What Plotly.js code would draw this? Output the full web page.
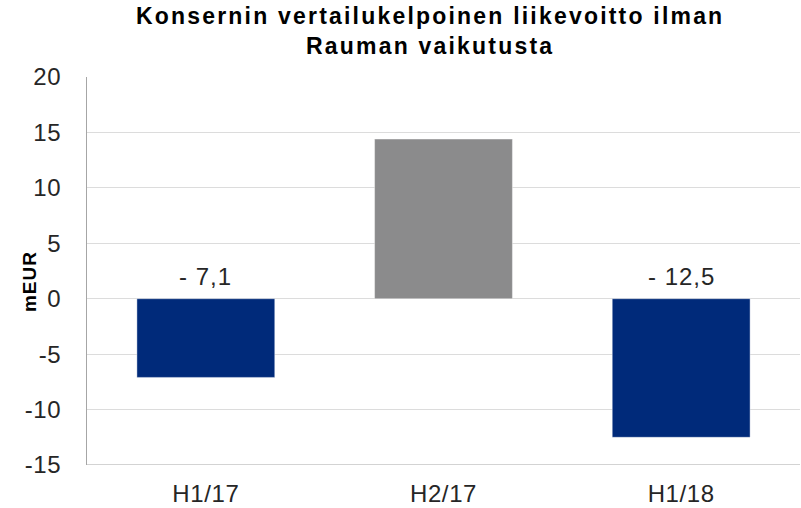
<!DOCTYPE html>
<html><head><meta charset="utf-8">
<script src="https://cdn.plot.ly/plotly-3.0.1.min.js"></script>
<style>
html,body{margin:0;padding:0;background:#fff}
#c{width:801px;height:508px}
.gtitle{letter-spacing:2.2px}
.xtick text,.ytick text{letter-spacing:0.6px}
.annotation-text{letter-spacing:1px}
</style>
</head><body><div id="c"></div>
<script>
const categories = ["H1/17", "H2/17", "H1/18"];
const values = [-7.1, 14.4, -12.5];
const barColors = ["#002A7A", "#8B8B8C", "#002A7A"];
const labelShown = [true, false, true];
const yTicks = [-15, -10, -5, 0, 5, 10, 15, 20];
const yAxisLabel = "mEUR";

const FONT = "Liberation Sans, Arial, sans-serif";
function fmt(v){ return (v < 0 ? "- " : "") + Math.abs(v).toFixed(1).replace(".", ","); }

const annotations = categories.map((c, i) => labelShown[i] ? {
  x: c, y: 0, xref: "x", yref: "y", yanchor: "bottom", yshift: 7,
  text: fmt(values[i]), showarrow: false,
  font: {family: FONT, size: 24, color: "#262626"}
} : null).filter(a => a);

annotations.push({
  xref: "paper", x: 0, xanchor: "center", xshift: -58,
  yref: "paper", y: 0.4716, yanchor: "middle",
  text: "<b>" + yAxisLabel + "</b>", textangle: -90, showarrow: false,
  font: {family: FONT, size: 19, color: "#000"}
});

Plotly.newPlot("c", [{
  type: "bar", x: categories, y: values,
  marker: {color: barColors, line: {color: "rgba(255,255,255,0.4)", width: 1}},
  hoverinfo: "none"
}], {
  width: 801, height: 508,
  margin: {l: 87, r: 1, t: 77, b: 43},
  paper_bgcolor: "#fff", plot_bgcolor: "#fff",
  bargap: 0.42,
  showlegend: false,
  title: {
    text: "<b>Konsernin vertailukelpoinen liikevoitto ilman<br>Rauman vaikutusta</b>",
    x: 0.537, xanchor: "center", xref: "container",
    yref: "container", y: 0.953, yanchor: "top",
    font: {family: FONT, size: 23, color: "#000"}
  },
  xaxis: {
    type: "category", showgrid: false, showline: false, zeroline: false, ticks: "",
    tickfont: {family: FONT, size: 24, color: "#262626"},
    ticklabelstandoff: 12
  },
  yaxis: {
    range: [-15, 20], tickvals: yTicks, ticktext: yTicks.map(String),
    showgrid: true, gridcolor: "#DCDCDC", gridwidth: 1,
    zeroline: true, zerolinecolor: "#DCDCDC", zerolinewidth: 1,
    showline: true, linecolor: "#A6A6A6", linewidth: 1, mirror: false,
    ticks: "", ticklabelstandoff: 20,
    tickfont: {family: FONT, size: 24, color: "#262626"}
  },
  shapes: [{type: "line", xref: "paper", yref: "y", x0: 0, x1: 1, y0: -15, y1: -15,
    line: {color: "#A6A6A6", width: 1}}],
  annotations: annotations
}, {staticPlot: true, displayModeBar: false});
</script></body></html>
